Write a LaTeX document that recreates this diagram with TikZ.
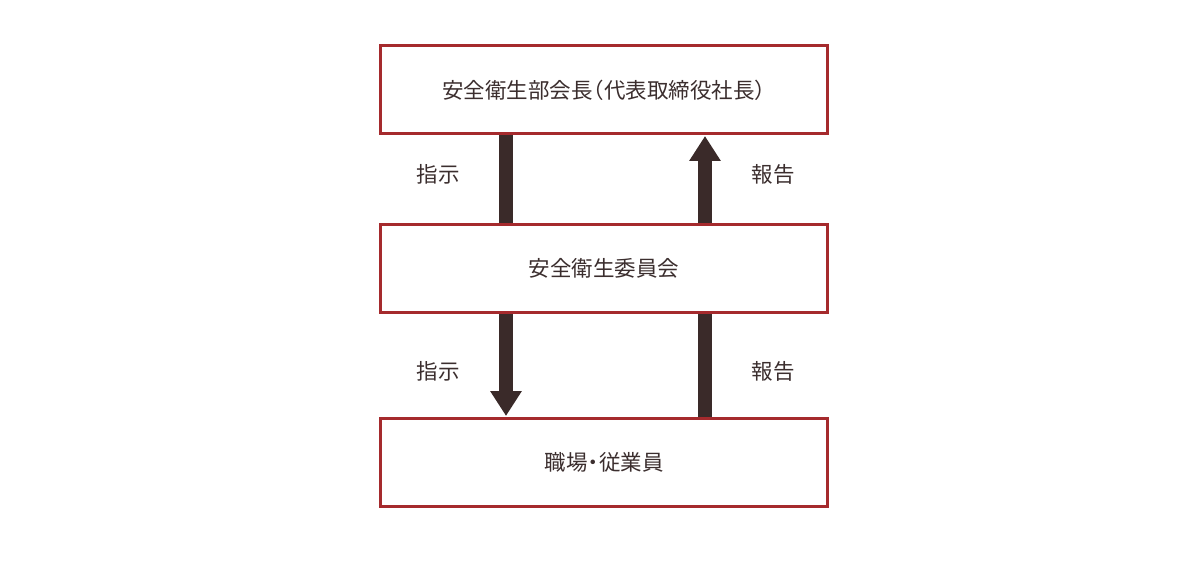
\documentclass[tikz,border=0pt]{standalone}
\usepackage{fontspec}
\newfontfamily\jpfont{Noto Sans CJK JP}
\usetikzlibrary{arrows.meta}
\definecolor{boxred}{HTML}{A52A2D}
\definecolor{arrowbrown}{HTML}{3A2A29}
\definecolor{txt}{HTML}{3B2E2E}
\tikzset{
  x=1pt,y=1pt,
  orgbox/.style={draw=boxred,line width=3pt,fill=white,minimum width=447pt,minimum height=88pt,inner sep=0pt,
    font=\jpfont\fontsize{21.5pt}{24pt}\selectfont,text=txt},
  shaft/.style={draw=arrowbrown,line width=14pt},
  flowarrow/.style={shaft,-{Triangle[width=30pt,length=25pt]}},
  lbl/.style={font=\jpfont\fontsize{21.5pt}{24pt}\selectfont,text=txt,inner sep=0pt}
}
\begin{document}
\begin{tikzpicture}
\useasboundingbox (0,0) rectangle (1200,-567);
\node[orgbox] (top) at (604,-90) {安全衛生部会長\kern-10pt（代表取締役社長）\kern-10pt};
\node[orgbox] (mid) at (604,-268.5) {安全衛生委員会};
\node[orgbox] (bot) at (604,-462) {職場\kern-5pt・\kern-5pt従業員};
% top level
\draw[shaft] ([xshift=-98pt]top.south) -- ([xshift=-98pt]mid.north);
\draw[flowarrow] ([xshift=101pt]mid.north) -- ([xshift=101pt,yshift=-0.5pt]top.south);
% lower level
\draw[flowarrow] ([xshift=-98pt]mid.south) -- ([xshift=-98pt,yshift=0.5pt]bot.north);
\draw[shaft] ([xshift=101pt]bot.north) -- ([xshift=101pt]mid.south);
\node[lbl] (l1) at (438,-174) {指示};
\node[lbl] (r1) at (773,-174) {報告};
\node[lbl] (l2) at (438,-371) {指示};
\node[lbl] (r2) at (773,-371) {報告};
\end{tikzpicture}
\end{document}
